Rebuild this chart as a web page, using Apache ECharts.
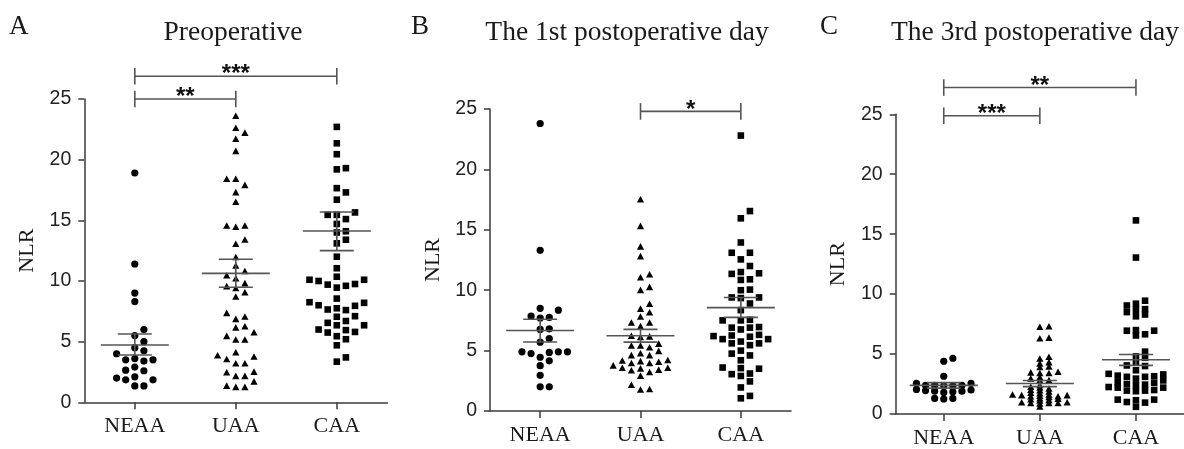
<!DOCTYPE html>
<html><head><meta charset="utf-8">
<script src="https://cdn.jsdelivr.net/npm/echarts@6/dist/echarts.min.js"></script>
<style>html,body{margin:0;padding:0;background:#fff}#c{width:1184px;height:449px}</style>
</head><body><div id="c"></div>
<script>
// ---------- data ----------
const categories = ['NEAA', 'UAA', 'CAA'];
const panelTitles = ['Preoperative', 'The 1st postoperative day', 'The 3rd postoperative day'];
const panelLetters = ['A', 'B', 'C'];
const yMin = 0, yMax = 25, yInterval = 5;

const preNEAA = [18.9, 11.4, 9.0, 8.3, 6.0, 5.5, 5.0, 4.5, 4.25, 4.0, 3.6, 3.5, 3.5, 3.4, 2.9, 2.65, 2.6, 2.1, 2.0, 1.85, 1.85, 1.35, 1.35];
const preUAA = [23.6, 22.6, 22.2, 21.7, 20.7, 18.4, 18.4, 17.9, 17.3, 16.5, 14.55, 14.45, 14.55, 13.4, 13.05, 11.95, 11.25, 10.8, 10.45, 10.2, 9.8, 9.55, 9.4, 9.05, 8.7, 7.35, 7.05, 6.85, 6.25, 6.15, 5.75, 5.45, 5.15, 5.15, 4.1, 3.85, 3.75, 3.55, 3.2, 3.2, 2.5, 2.45, 2.15, 2.15, 1.7, 1.35, 1.25, 1.25];
const preCAA = [22.7, 21.35, 20.45, 19.2, 19.3, 17.65, 17.3, 16.7, 15.65, 15.45, 15.45, 15.1, 14.7, 14.1, 14.0, 13.4, 13.1, 12.0, 11.05, 10.35, 10.1, 10.1, 10.0, 9.75, 9.45, 9.6, 9.7, 8.55, 8.25, 8.0, 7.75, 7.6, 7.65, 7.95, 8.2, 7.05, 7.1, 6.7, 6.55, 6.35, 5.95, 5.75, 5.8, 6.0, 6.35, 5.45, 5.2, 4.7, 3.35, 3.7];

const day1NEAA = [23.8, 13.3, 8.5, 8.35, 7.85, 7.7, 7.75, 6.75, 6.8, 6.0, 5.7, 4.9, 4.75, 4.45, 4.85, 4.9, 4.9, 4.15, 3.75, 2.95, 2.0, 2.0];
const day1UAA = [17.5, 15.3, 13.6, 12.8, 11.3, 11.05, 10.25, 10.0, 8.85, 8.45, 8.15, 7.8, 7.3, 7.3, 7.0, 6.15, 6.2, 6.1, 5.55, 5.4, 5.25, 5.4, 4.75, 4.6, 4.95, 4.6, 4.2, 4.05, 3.95, 3.75, 4.1, 3.95, 4.15, 3.55, 3.35, 3.2, 2.9, 3.4, 3.5, 3.55, 2.15, 1.75, 1.8];
const day1CAA = [22.8, 16.55, 15.95, 13.95, 13.1, 13.1, 12.55, 12.0, 11.4, 11.35, 11.5, 10.85, 10.9, 10.05, 10.0, 9.4, 9.35, 9.4, 8.9, 8.35, 7.55, 7.5, 7.5, 6.9, 6.75, 6.9, 6.95, 6.15, 5.95, 6.3, 6.2, 6.25, 5.75, 5.95, 5.6, 5.45, 5.6, 5.0, 4.75, 4.6, 4.2, 3.55, 3.5, 3.6, 3.05, 2.9, 3.1, 2.45, 1.95, 1.05, 1.25];

const day3NEAA = [4.65, 4.4, 3.15, 2.4, 2.35, 2.55, 2.4, 2.55, 2.35, 2.4, 1.9, 1.85, 2.0, 1.95, 2.05, 1.8, 1.9, 1.3, 1.25, 1.3];
const day3UAA = [7.3, 7.25, 6.3, 6.35, 4.6, 4.75, 4.2, 4.3, 3.9, 3.95, 3.5, 3.4, 3.4, 3.45, 2.8, 3.05, 2.95, 2.8, 2.25, 2.2, 2.1, 2.0, 1.85, 1.95, 1.75, 1.55, 1.6, 1.55, 1.45, 1.6, 1.5, 1.45, 1.4, 1.2, 1.15, 1.25, 1.1, 0.95, 0.9, 0.9, 0.6, 0.85, 0.95, 0.9, 1.3, 1.7, 2.4];
const day3CAA = [16.15, 13.05, 9.45, 8.75, 9.05, 9.2, 8.7, 8.3, 8.15, 8.5, 7.0, 6.95, 6.55, 6.65, 6.95, 5.2, 4.8, 4.7, 4.3, 4.05, 4.0, 3.65, 3.2, 3.1, 3.15, 3.35, 3.1, 3.3, 2.5, 2.4, 2.8, 2.95, 2.65, 2.6, 2.45, 2.2, 2.2, 2.25, 1.95, 1.9, 2.0, 1.95, 1.2, 1.15, 1.0, 0.95, 1.2, 0.6];

// mean and SEM bounds as drawn
const preMean = [4.72, 10.63, 14.12], preSemHi = [5.63, 11.79, 15.69], preSemLo = [3.90, 9.48, 12.50];
const day1Mean = [6.66, 6.23, 8.56], day1SemHi = [7.60, 6.76, 9.40], day1SemLo = [5.71, 5.70, 7.75];
const day3Mean = [2.39, 2.54, 4.52], day3SemHi = [2.62, 2.80, 4.96], day3SemLo = [2.16, 2.28, 4.06];

// significance brackets: from category, to category, height (NLR units), label
const preBrFrom = [0, 0], preBrTo = [1, 2], preBrY = [25.0, 26.87], preBrLabel = ['**', '***'];
const day1BrFrom = [1], day1BrTo = [2], day1BrY = [24.8], day1BrLabel = ['*'];
const day3BrFrom = [0, 0], day3BrTo = [1, 2], day3BrY = [24.88, 27.23], day3BrLabel = ['***', '**'];

// ---------- layout / style ----------
const grids = [
  {left: 84.3, top: 99, width: 303, height: 303.3},
  {left: 490, top: 109, width: 301, height: 302},
  {left: 895.7, top: 114.3, width: 302, height: 303}
];
const titleX = [233, 627, 1035];
const letterX = [9, 411, 820];
const shapes = ['circle', 'triangle', 'square'];
const axisColor = '#3a3a3a';
const lineColor = '#555';
const serif = '"Liberation Serif", "Times New Roman", serif';
const sans = '"Liberation Sans", Arial, sans-serif';

const panels = [
  {groups: [preNEAA, preUAA, preCAA], mean: preMean, hi: preSemHi, lo: preSemLo, bf: preBrFrom, bt: preBrTo, by: preBrY, bl: preBrLabel},
  {groups: [day1NEAA, day1UAA, day1CAA], mean: day1Mean, hi: day1SemHi, lo: day1SemLo, bf: day1BrFrom, bt: day1BrTo, by: day1BrY, bl: day1BrLabel},
  {groups: [day3NEAA, day3UAA, day3CAA], mean: day3Mean, hi: day3SemHi, lo: day3SemLo, bf: day3BrFrom, bt: day3BrTo, by: day3BrY, bl: day3BrLabel}
];

// beeswarm layout on a fixed column grid (like GraphPad scatter dot plots).
// When the spread would exceed maxCols, the allowed vertical overlap grows.
function swarmOnce(values, pxPerUnit, thr) {
  const order = values.map((v, i) => i).sort((a, b) => values[a] - values[b]);
  const placed = [];
  const cols = new Array(values.length);
  for (const i of order) {
    const y = values[i] * pxPerUnit;
    for (let k = 0; k < 80; k++) {
      const col = k === 0 ? 0 : (k % 2 === 1 ? (k + 1) / 2 : -k / 2);
      if (!placed.some(p => p.col === col && Math.abs(p.y - y) < thr)) {
        placed.push({col, y});
        cols[i] = col;
        break;
      }
    }
  }
  return cols;
}
function swarm(values, pxPerUnit, step, maxCols) {
  let cols;
  for (let thr = 8; thr >= 1; thr -= 0.25) {
    cols = swarmOnce(values, pxPerUnit, thr);
    if (Math.max(...cols.map(Math.abs)) <= maxCols) break;
  }
  return cols.map(c => c * step);
}

function pointSeries(gi, cat, values, shape) {
  const ppu = grids[gi].height / (yMax - yMin);
  const offs = swarm(values, ppu, 9.1, 3);
  return {
    type: 'custom', xAxisIndex: gi, yAxisIndex: gi, z: 3, silent: true,
    data: values.map((v, i) => [cat, v, offs[i]]),
    renderItem(params, api) {
      const p = api.coord([api.value(0), api.value(1)]);
      const x = p[0] + api.value(2), y = p[1];
      if (shape === 'circle') return {type: 'circle', shape: {cx: x, cy: y, r: 3.6}, style: {fill: '#000'}};
      if (shape === 'square') return {type: 'rect', shape: {x: x - 3.3, y: y - 3.3, width: 6.6, height: 6.6}, style: {fill: '#000'}};
      return {type: 'polygon', shape: {points: [[x, y - 3.6], [x - 3.6, y + 3], [x + 3.6, y + 3]]}, style: {fill: '#000'}};
    }
  };
}

function meanSeries(gi, P) {
  return {
    type: 'custom', xAxisIndex: gi, yAxisIndex: gi, z: 5, silent: true,
    data: P.mean.map((m, c) => [c, m, P.hi[c], P.lo[c]]),
    renderItem(params, api) {
      const c = api.value(0);
      const pm = api.coord([c, api.value(1)]);
      const ph = api.coord([c, api.value(2)]);
      const pl = api.coord([c, api.value(3)]);
      const st = {stroke: lineColor, lineWidth: 1.6};
      const L = (x1, y1, x2, y2) => ({type: 'line', shape: {x1, y1, x2, y2}, style: st});
      return {type: 'group', children: [
        L(pm[0] - 34, pm[1], pm[0] + 34, pm[1]),
        L(ph[0] - 17, ph[1], ph[0] + 17, ph[1]),
        L(pl[0] - 17, pl[1], pl[0] + 17, pl[1]),
        L(ph[0], ph[1], pl[0], pl[1])
      ]};
    }
  };
}

function bracketSeries(gi, P) {
  return {
    type: 'custom', xAxisIndex: gi, yAxisIndex: gi, z: 5, silent: true, clip: false,
    data: P.bf.map((f, i) => [f, P.by[i], P.bt[i]]),
    renderItem(params, api) {
      const p1 = api.coord([api.value(0), api.value(1)]);
      const p2 = api.coord([api.value(2), api.value(1)]);
      const y = p1[1];
      const st = {stroke: lineColor, lineWidth: 1.6};
      return {type: 'group', children: [
        {type: 'line', shape: {x1: p1[0], y1: y, x2: p2[0], y2: y}, style: st},
        {type: 'line', shape: {x1: p1[0], y1: y - 8.3, x2: p1[0], y2: y + 8.3}, style: st},
        {type: 'line', shape: {x1: p2[0], y1: y - 8.3, x2: p2[0], y2: y + 8.3}, style: st},
        {type: 'text', style: {text: P.bl[params.dataIndex], x: (p1[0] + p2[0]) / 2, y: y - 1.5,
          align: 'center', verticalAlign: 'middle', fill: '#111', font: 'bold 24px ' + sans}}
      ]};
    }
  };
}

const series = [];
panels.forEach((P, gi) => {
  P.groups.forEach((vals, c) => series.push(pointSeries(gi, c, vals, shapes[c])));
  series.push(meanSeries(gi, P));
  series.push(bracketSeries(gi, P));
});

const graphic = [];
panelTitles.forEach((t, i) => {
  graphic.push({type: 'text', x: titleX[i], y: 33, silent: true,
    style: {text: t, align: 'center', verticalAlign: 'middle', fill: '#1a1a1a', font: '27.5px ' + serif}});
  graphic.push({type: 'text', x: letterX[i], y: 26.5, silent: true,
    style: {text: panelLetters[i], align: 'left', verticalAlign: 'middle', fill: '#1a1a1a', font: '27px ' + serif}});
});

const option = {
  animation: false,
  backgroundColor: '#fff',
  grid: grids.map(g => Object.assign({containLabel: false}, g)),
  xAxis: grids.map((g, i) => ({
    type: 'category', gridIndex: i, data: categories, boundaryGap: true,
    axisLine: {show: true, lineStyle: {color: axisColor, width: 1.5}},
    axisTick: {show: true, alignWithLabel: true, length: 7, lineStyle: {color: axisColor, width: 1.5}},
    axisLabel: {fontFamily: serif, fontSize: 22, color: '#1a1a1a', margin: 13},
    splitLine: {show: false}
  })),
  yAxis: grids.map((g, i) => ({
    type: 'value', gridIndex: i, min: yMin, max: yMax, interval: yInterval,
    axisLine: {show: true, lineStyle: {color: axisColor, width: 1.5}},
    axisTick: {show: true, length: 6, lineStyle: {color: axisColor, width: 1.5}},
    axisLabel: {fontFamily: sans, fontSize: 19.5, color: '#222', margin: 13},
    splitLine: {show: false},
    name: 'NLR', nameLocation: 'middle', nameGap: 46,
    nameTextStyle: {fontFamily: serif, fontSize: 22, color: '#1a1a1a'}
  })),
  graphic: graphic,
  series: series
};

const chart = echarts.init(document.getElementById('c'));
chart.setOption(option);
</script>
</body></html>
